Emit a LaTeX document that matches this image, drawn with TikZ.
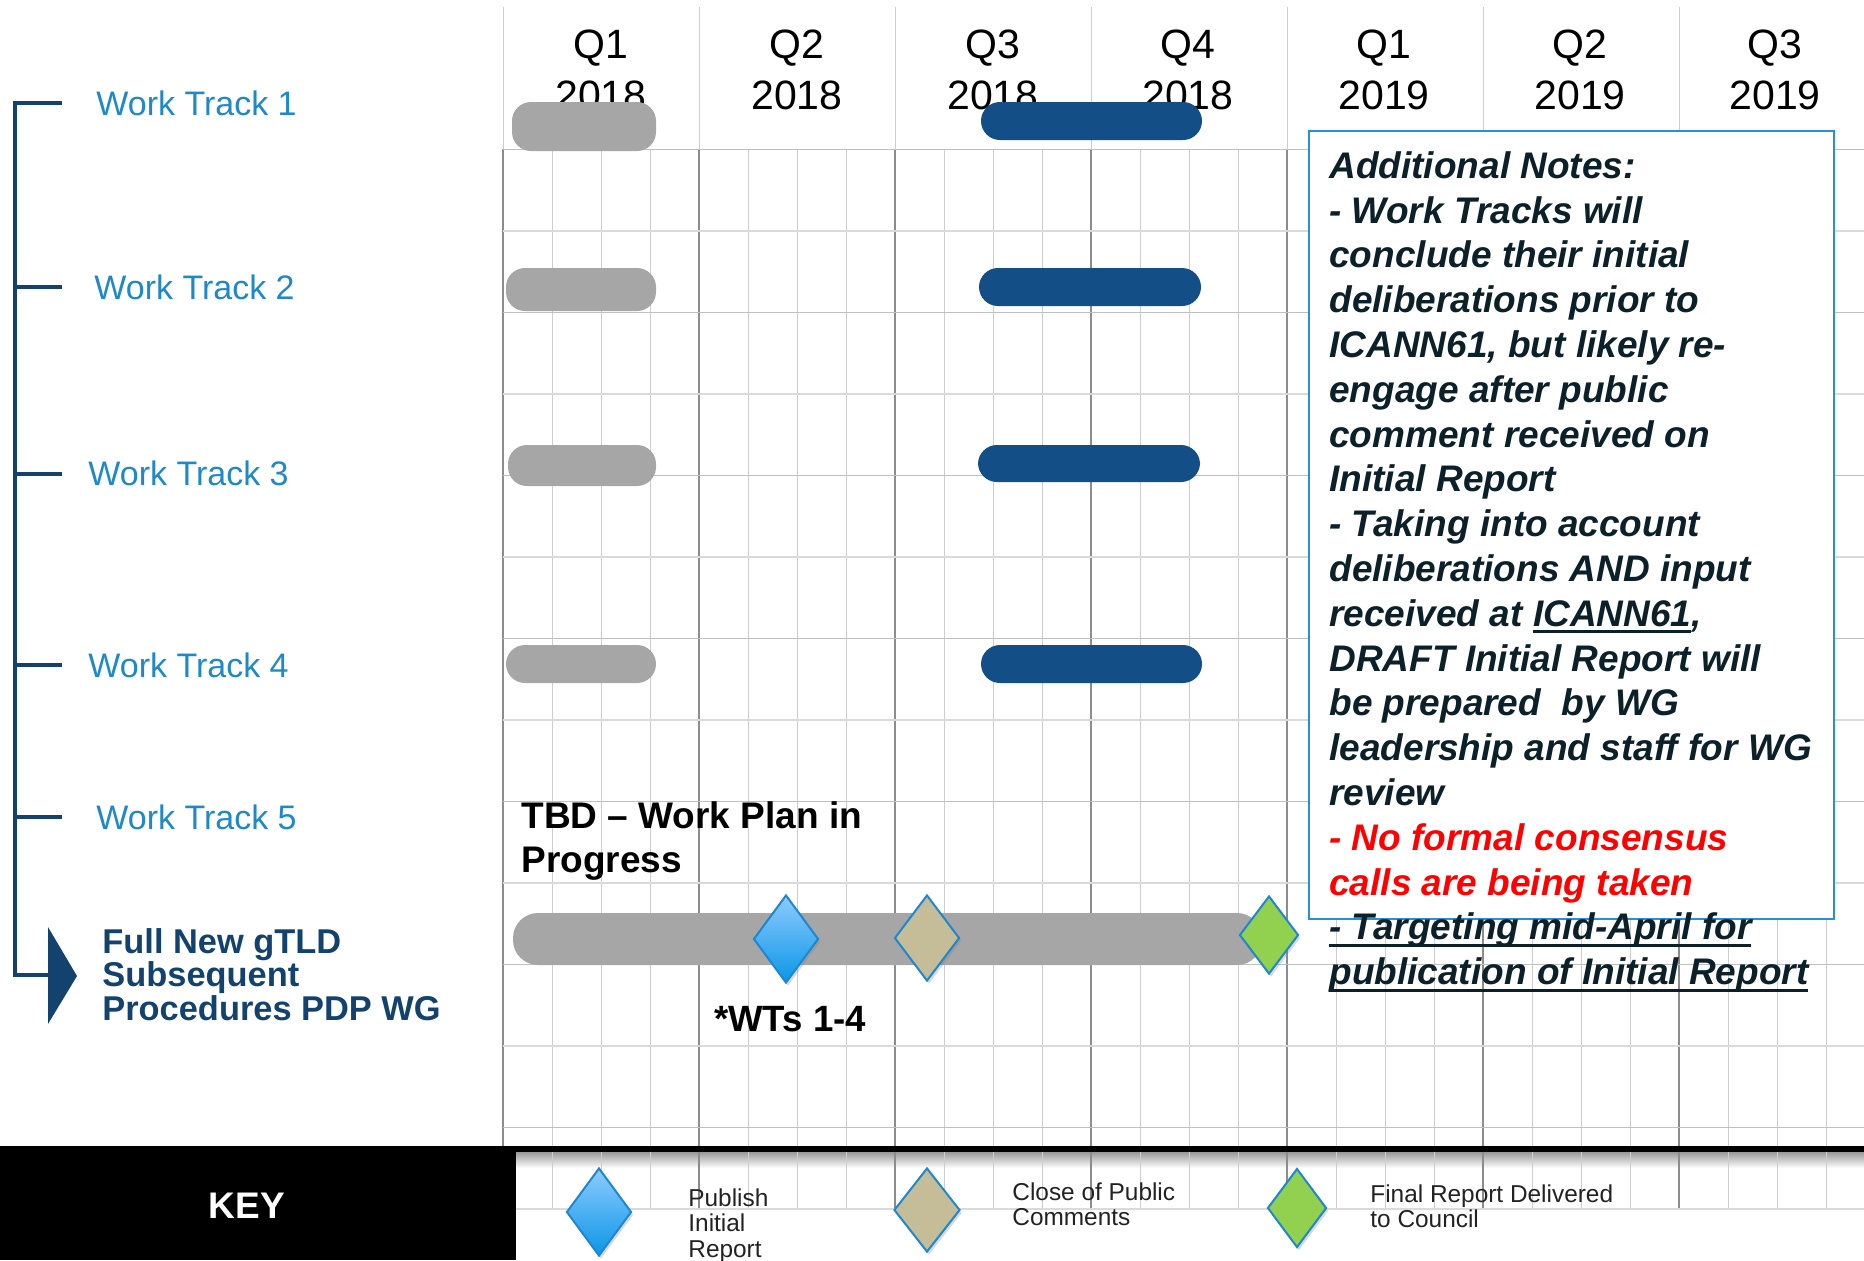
\documentclass[tikz,border=0pt]{standalone}
\usepackage{fontspec}
\setmainfont{Liberation Sans}
\usetikzlibrary{shapes.geometric,shadows}

\definecolor{trackblue}{RGB}{30,136,200}
\definecolor{navy}{RGB}{18,66,109}
\definecolor{barnavy}{RGB}{19,78,134}
\definecolor{bargray}{RGB}{166,166,166}
\definecolor{notetext}{RGB}{11,32,40}
\definecolor{noteline}{RGB}{43,143,214}
\definecolor{msline}{RGB}{31,135,207}
\definecolor{msbluetop}{RGB}{142,203,255}
\definecolor{msbluebot}{RGB}{10,150,230}
\definecolor{mstan}{RGB}{196,189,152}
\definecolor{msgreen}{RGB}{146,208,80}
\definecolor{gridlight}{RGB}{205,205,205}
\definecolor{griddark}{RGB}{140,140,140}
\definecolor{gridrow}{RGB}{192,192,192}
\definecolor{gridrowlight}{RGB}{218,218,218}
\definecolor{keyink}{RGB}{34,34,34}

\newcommand\ulbox[1]{\setbox0\hbox{#1}\rlap{\rule[-3.5pt]{\wd0}{1.4pt}}\box0}

\begin{document}
\begin{tikzpicture}[x=0.5pt, y=-0.5pt,
    wtlabel/.style={anchor=west, inner sep=0pt, text=trackblue, font=\fontsize{17}{20}\selectfont},
    quarter/.style={align=center, inner sep=0pt, font=\fontsize{20.5}{25.5}\selectfont},
    keytext/.style={anchor=north west, inner sep=0pt, align=left, text=keyink, font=\fontsize{12.2}{12.75}\selectfont},
    bar/.style={rounded corners=9.5pt},
    milestone/.style={diamond, draw=msline, line width=1pt, inner sep=0pt,
        drop shadow={shadow xshift=1pt, shadow yshift=-1.5pt, opacity=0.3}},
    msblue/.style={milestone, top color=msbluetop, bottom color=msbluebot},
    mstanfill/.style={milestone, fill=mstan},
    msgreenfill/.style={milestone, fill=msgreen}]

    \useasboundingbox (0,0) rectangle (1864,1260);

    % Shadow under the key line
    \shade[top color=black!40, bottom color=white] (516,1152) rectangle (1864,1168);

    % Grid columns
    \foreach \k in {0,...,27}
        \draw[gridlight, line width=0.5pt] (503+49*\k,149) -- (503+49*\k,1208.5);
    \foreach \gx in {503,699,...,1679} {
        \draw[griddark, line width=0.6pt] (\gx,149) -- (\gx,1208.5);
        \draw[gridlight, line width=0.5pt] (\gx,7) -- (\gx,149);
    }

    % Grid rows
    \foreach \k in {0,...,6} {
        \draw[gridrow, line width=0.5pt] (503,149+163*\k) -- (1864,149+163*\k);
        \draw[gridrowlight, line width=1pt] (503,230.5+163*\k) -- (1864,230.5+163*\k);
    }

    % Quarters
    \node[quarter] (q1) at (601,69.5) {Q1\\2018};
    \node[quarter] (q2) at (797,69.5) {Q2\\2018};
    \node[quarter] (q3) at (993,69.5) {Q3\\2018};
    \node[quarter] (q4) at (1188,69.5) {Q4\\2018};
    \node[quarter] (q5) at (1384,69.5) {Q1\\2019};
    \node[quarter] (q6) at (1580,69.5) {Q2\\2019};
    \node[quarter] (q7) at (1775,69.5) {Q3\\2019};

    % Work track bars
    \fill[bargray, bar] (512,102) rectangle (656,151);
    \fill[bargray, bar] (506,268) rectangle (656,311);
    \fill[bargray, bar] (508,445) rectangle (656,486);
    \fill[bargray, bar] (506,645) rectangle (656,683);
    \fill[barnavy, bar] (981,102) rectangle (1202,140);
    \fill[barnavy, bar] (979,268) rectangle (1201,306);
    \fill[barnavy, bar] (978,445) rectangle (1200,482);
    \fill[barnavy, bar] (981,645) rectangle (1202,683);

    % Working group bar and milestones
    \fill[bargray, rounded corners=12.5pt] (513,913) rectangle (1262,965);
    \node[msblue, minimum width=32.5pt, minimum height=44pt] (pubms) at (786,939) {};
    \node[mstanfill, minimum width=32.5pt, minimum height=43pt] (closems) at (927,938) {};
    \node[msgreenfill, minimum width=29.5pt, minimum height=39pt] (finalms) at (1269,935) {};

    \node[anchor=north west, inner sep=0pt, align=left, font=\fontsize{18.5}{22}\selectfont\bfseries] (tbd) at (521,801) {TBD -- Work Plan in\\Progress};
    \node[inner sep=0pt, font=\fontsize{18.3}{22}\selectfont\bfseries] (wts) at (790,1019) {*WTs 1-4};

    % Bracket
    \draw[navy, line width=2.25pt] (62,103) -- (15,103) -- (15,975) -- (50,975);
    \foreach \ty in {287,474,665,817}
        \draw[navy, line width=2.25pt] (15,\ty) -- (62,\ty);
    \fill[navy] (48,927) -- (77,976) -- (48,1024) -- cycle;

    % Track labels
    \node[wtlabel] (wt1) at (96,103) {Work Track 1};
    \node[wtlabel] (wt2) at (94,287) {Work Track 2};
    \node[wtlabel] (wt3) at (88,473) {Work Track 3};
    \node[wtlabel] (wt4) at (88,665) {Work Track 4};
    \node[wtlabel] (wt5) at (96,817) {Work Track 5};
    \node[anchor=north west, inner sep=0pt, align=left, text=navy, font=\fontsize{17.2}{16.75}\selectfont\bfseries] (wg) at (102,928) {Full New gTLD\\Subsequent\\Procedures PDP WG};

    % Notes
    \draw[noteline, line width=1pt, fill=white] (1309,131) rectangle (1834,919);
    \node[anchor=north west, inner sep=0pt, align=left, text=notetext, font=\fontsize{18.5}{22.4}\selectfont\bfseries\itshape] (notes) at (1329,151) {Additional Notes:\\- Work Tracks will\\conclude their initial\\deliberations prior to\\ICANN61, but likely re-\\engage after public\\comment received on\\Initial Report\\- Taking into account\\deliberations AND input\\received at \ulbox{ICANN61},\\DRAFT Initial Report will\\be prepared\ \ by WG\\leadership and staff for WG\\review\\\textcolor{red}{- No formal consensus}\\\textcolor{red}{calls are being taken}\\\ulbox{- Targeting mid-April for}\\\ulbox{publication of Initial Report}};

    % Key
    \fill[black] (0,1146) rectangle (1864,1152);
    \fill[black] (0,1146) rectangle (516,1260);
    \node[text=white, inner sep=0pt, font=\fontsize{18.5}{22}\selectfont\bfseries] (key) at (247,1206) {KEY};
    \node[msblue, minimum width=32.5pt, minimum height=44pt] (keypub) at (599,1212) {};
    \node[mstanfill, minimum width=33pt, minimum height=42pt] (keyclose) at (927,1210) {};
    \node[msgreenfill, minimum width=29.5pt, minimum height=39.5pt] (keyfinal) at (1297,1208) {};
    \node[keytext] (keypubtext) at (688,1188) {Publish\\Initial\\Report};
    \node[keytext] (keyclosetext) at (1012,1182) {Close of Public\\Comments};
    \node[keytext] (keyfinaltext) at (1370,1184) {Final Report Delivered\\to Council};

\end{tikzpicture}
\end{document}
